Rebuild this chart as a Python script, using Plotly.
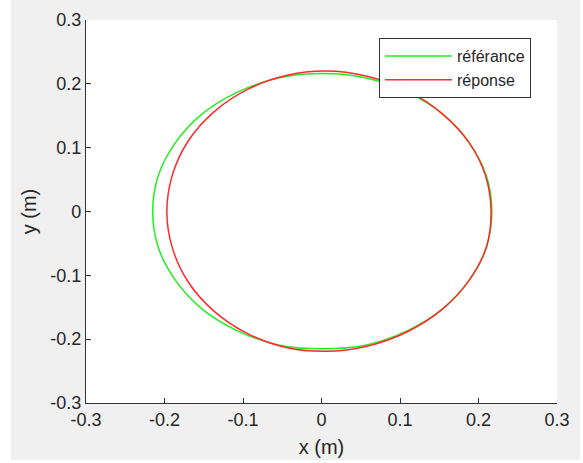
import plotly.graph_objects as go

# Reference trajectory (green)
ref_x = [0.217, 0.210, 0.188, 0.154, 0.109, 0.057, 0.001, -0.055, -0.107, -0.152, -0.186, -0.208,
         -0.215, -0.208, -0.186, -0.152, -0.107, -0.055, 0.001, 0.057, 0.109, 0.154, 0.188, 0.210, 0.217]
ref_y = [0.000, 0.056, 0.108, 0.153, 0.187, 0.209, 0.216, 0.209, 0.187, 0.153, 0.108, 0.056,
         0.000, -0.056, -0.108, -0.153, -0.187, -0.209, -0.215, -0.209, -0.187, -0.153, -0.108, -0.056, 0.000]

# Response trajectory (red)
rep_x = [0.216, 0.209, 0.188, 0.154, 0.110, 0.058, 0.005, -0.045, -0.093, -0.137, -0.170, -0.190,
         -0.197, -0.190, -0.170, -0.137, -0.093, -0.045, 0.005, 0.058, 0.110, 0.154, 0.188, 0.210, 0.216]
rep_y = [0.000, 0.056, 0.108, 0.153, 0.189, 0.212, 0.220, 0.213, 0.192, 0.156, 0.110, 0.057,
         0.000, -0.057, -0.110, -0.156, -0.192, -0.213, -0.219, -0.211, -0.188, -0.153, -0.108, -0.056, 0.000]

tick_vals = [-0.3, -0.2, -0.1, 0, 0.1, 0.2, 0.3]
tick_text = ["-0.3", "-0.2", "-0.1", "0", "0.1", "0.2", "0.3"]

W, H = 583, 463
L, R, T, B = 86, 26, 20, 60
pw, ph = W - L - R, H - T - B
TXT = "#262626"

fig = go.Figure()
fig.add_trace(go.Scatter(x=ref_x, y=ref_y, mode="lines", name="référance",
                         line=dict(color="#22ee22", width=1.5, shape="spline")))
fig.add_trace(go.Scatter(x=rep_x, y=rep_y, mode="lines", name="réponse",
                         line=dict(color="#ff2a2a", width=1.5, shape="spline")))

axis_common = dict(range=[-0.3, 0.3], tickvals=tick_vals, ticktext=tick_text,
                   ticks="inside", ticklen=5, tickcolor="#333333", tickwidth=1,
                   showline=True, linecolor="#333333", linewidth=1.2,
                   showgrid=False, zeroline=False, mirror=False,
                   tickfont=dict(family="Liberation Sans", size=18, color=TXT))

fig.update_xaxes(**axis_common, title=dict(text="x (m)", standoff=11,
                 font=dict(family="Liberation Sans", size=20, color=TXT)))
fig.update_yaxes(**axis_common, title=dict(text="y (m)", standoff=8,
                 font=dict(family="Liberation Sans", size=20, color=TXT)))

def px_x(p):
    return (p - L) / pw

def px_y(p):
    return (H - B - p) / ph

shapes = [
    dict(type="rect", xref="paper", yref="paper", x0=px_x(0), x1=px_x(11), y0=px_y(H), y1=px_y(0),
         fillcolor="white", line=dict(width=0)),
    dict(type="rect", xref="paper", yref="paper", x0=px_x(580), x1=px_x(W), y0=px_y(H), y1=px_y(0),
         fillcolor="white", line=dict(width=0)),
    dict(type="rect", xref="paper", yref="paper", x0=px_x(0), x1=px_x(W), y0=px_y(H), y1=px_y(460),
         fillcolor="white", line=dict(width=0)),
]

fig.update_layout(
    width=W, height=H, margin=dict(l=L, r=R, t=T, b=B, autoexpand=False),
    paper_bgcolor="#f0f0f0", plot_bgcolor="white",
    shapes=shapes,
    showlegend=True,
    legend=dict(x=px_x(379), y=px_y(38), xanchor="left", yanchor="top",
                bgcolor="white", bordercolor="#333333", borderwidth=1,
                font=dict(family="Liberation Sans", size=16, color=TXT),
                itemwidth=67, tracegroupgap=0),
)

fig.write_html("out.html")
